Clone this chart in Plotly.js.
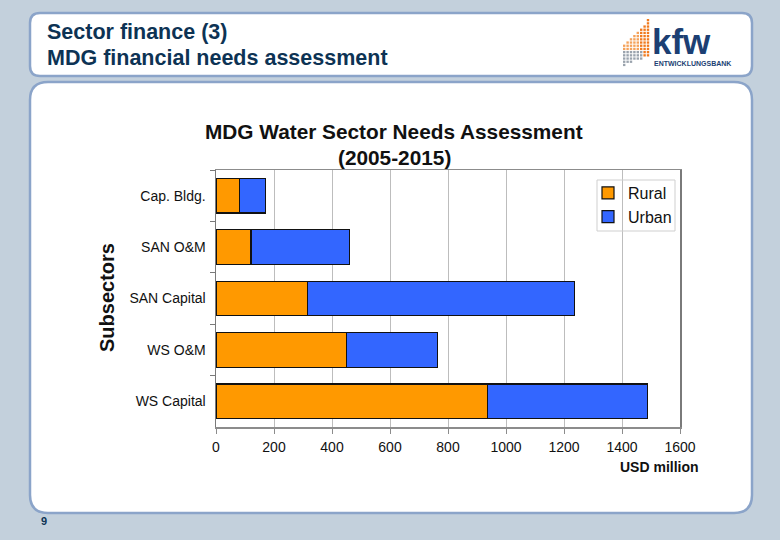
<!DOCTYPE html>
<html>
<head>
<meta charset="utf-8">
<script src="https://cdn.plot.ly/plotly-3.0.1.min.js"></script>
<style>
  html, body { margin: 0; padding: 0; background: #c3d0dc; }
  #chart { width: 780px; height: 540px; }
</style>
</head>
<body>
<div id="chart"></div>
<script>
const W = 780, H = 540;

// data (USD million), listed top to bottom
const subsectors = ["Cap. Bldg.", "SAN O&M", "SAN Capital", "WS O&M", "WS Capital"];
const rural = [80, 121, 315, 451, 936];
const urban = [91, 339, 921, 312, 552];
const xTicks = [0, 200, 400, 600, 800, 1000, 1200, 1400, 1600];

const FONT = "Liberation Sans, Arial, sans-serif";
const NAVY = "#0d3354";

// pixel -> paper helpers
const px = x => x / W;
const py = y => 1 - y / H;

function roundRect(x0, y0, x1, y1, r) {
  const P = (x, y) => px(x) + "," + py(y);
  return "M" + P(x0 + r, y0) + " L" + P(x1 - r, y0) + " Q" + P(x1, y0) + " " + P(x1, y0 + r) +
    " L" + P(x1, y1 - r) + " Q" + P(x1, y1) + " " + P(x1 - r, y1) +
    " L" + P(x0 + r, y1) + " Q" + P(x0, y1) + " " + P(x0, y1 - r) +
    " L" + P(x0, y0 + r) + " Q" + P(x0, y0) + " " + P(x0 + r, y0) + " Z";
}

const shapes = [
  { type: "path", xref: "paper", yref: "paper", layer: "below",
    path: roundRect(30, 13, 752, 76, 10), fillcolor: "white", line: { color: "#8ba4c9", width: 2.5 } },
  { type: "path", xref: "paper", yref: "paper", layer: "below",
    path: roundRect(30, 82, 752, 513, 18), fillcolor: "white", line: { color: "#8ba4c9", width: 2.5 } },
  // legend frame
  { type: "rect", xref: "paper", yref: "paper", layer: "above",
    x0: px(597), x1: px(675), y0: py(231), y1: py(180),
    fillcolor: "rgba(0,0,0,0)", line: { color: "#cfcfcf", width: 1 } }
];

// kfw logo dot pattern
for (let c = 0; c < 8; c++) {
  const top = 19 + (7 - c) * 3.6;
  for (let r = 0; r < 15; r++) {
    const y = 19 + r * 3.2;
    if (y < top || y > 65 - c * 1.5) continue;
    const orange = (y < 50 - c * 0.4) || c > 5;
    shapes.push({ type: "rect", xref: "paper", yref: "paper", layer: "below",
      x0: px(623 + c * 3.4), x1: px(625.4 + c * 3.4), y0: py(y + 2.3), y1: py(y),
      fillcolor: orange ? (c > 4 ? "#f07a1e" : "#f4a25a") : "#9aa3ad", line: { width: 0 } });
  }
}

const annotations = [
  { text: "Sector finance (3)", x: px(45), y: py(32), xanchor: "left", yanchor: "middle",
    font: { family: FONT, size: 21.5, color: NAVY, weight: "bold" } },
  { text: "MDG financial needs assessment", x: px(45), y: py(58), xanchor: "left", yanchor: "middle",
    font: { family: FONT, size: 21.5, color: NAVY, weight: "bold" } },
  { text: "kfw", x: px(650), y: py(41), xanchor: "left", yanchor: "middle",
    font: { family: FONT, size: 35, color: "#1c3f73", weight: "bold" } },
  { text: "ENTWICKLUNGSBANK", x: px(652), y: py(63), xanchor: "left", yanchor: "middle",
    font: { family: FONT, size: 7, color: "#1c3f73", weight: "bold" } },
  { text: "9", x: px(44), y: py(521), xanchor: "center", yanchor: "middle",
    font: { family: FONT, size: 11, color: NAVY, weight: "bold" } },
  { text: "MDG Water Sector Needs Assessment", x: px(394), y: py(131), xanchor: "center", yanchor: "middle",
    font: { family: FONT, size: 20.8, color: "#111", weight: "bold" } },
  { text: "(2005-2015)", x: px(394), y: py(157), xanchor: "center", yanchor: "middle",
    font: { family: FONT, size: 20.8, color: "#111", weight: "bold" } },
  { text: "Subsectors", x: px(107), y: py(298), xanchor: "center", yanchor: "middle", textangle: -90,
    font: { family: FONT, size: 20, color: "#111", weight: "bold" } },
  { text: "USD million", x: px(701), y: py(467), xanchor: "right", yanchor: "middle",
    font: { family: FONT, size: 14, color: "#111", weight: "bold" } }
].map(a => Object.assign({ xref: "paper", yref: "paper", showarrow: false }, a));

const traces = [
  { type: "bar", orientation: "h", name: "Rural", y: subsectors, x: rural,
    marker: { color: "#ff9900", line: { color: "#111", width: 1.2 } }, hoverinfo: "x+y+name" },
  { type: "bar", orientation: "h", name: "Urban", y: subsectors, x: urban,
    marker: { color: "#3366ff", line: { color: "#111", width: 1.2 } }, hoverinfo: "x+y+name" }
];

const layout = {
  width: W, height: H,
  margin: { l: 0, r: 0, t: 0, b: 0 },
  paper_bgcolor: "#c3d0dc",
  plot_bgcolor: "white",
  barmode: "stack",
  bargap: 0.33,
  font: { family: FONT, size: 14, color: "#111" },
  xaxis: {
    domain: [px(216), px(680)],
    range: [0, 1600], tickvals: xTicks, ticktext: xTicks.map(String),
    showgrid: true, gridcolor: "#bdbdbd", gridwidth: 1,
    showline: true, linecolor: "#8c8c8c", linewidth: 1.5, mirror: true,
    ticks: "outside", ticklen: 5, tickcolor: "#8c8c8c",
    ticklabelstandoff: 2,
    zeroline: false, fixedrange: true,
    tickfont: { family: FONT, size: 14, color: "#111" }
  },
  yaxis: {
    domain: [py(427), py(170)],
    type: "category", categoryorder: "array", categoryarray: subsectors,
    autorange: "reversed",
    showline: true, linecolor: "#7a7a7a", linewidth: 1.5, mirror: true,
    ticks: "outside", ticklen: 5, tickcolor: "#7a7a7a", tickson: "boundaries",
    ticklabelstandoff: 6,
    showgrid: false, zeroline: false, fixedrange: true,
    tickfont: { family: FONT, size: 14, color: "#111" }
  },
  legend: {
    x: px(588), y: py(176), xanchor: "left", yanchor: "top",
    bgcolor: "rgba(0,0,0,0)", borderwidth: 0,
    font: { family: FONT, size: 16, color: "#111" },
    traceorder: "normal", itemwidth: 30
  },
  shapes: shapes,
  annotations: annotations
};

Plotly.newPlot("chart", traces, layout, { displayModeBar: false, staticPlot: true });
</script>
</body>
</html>
